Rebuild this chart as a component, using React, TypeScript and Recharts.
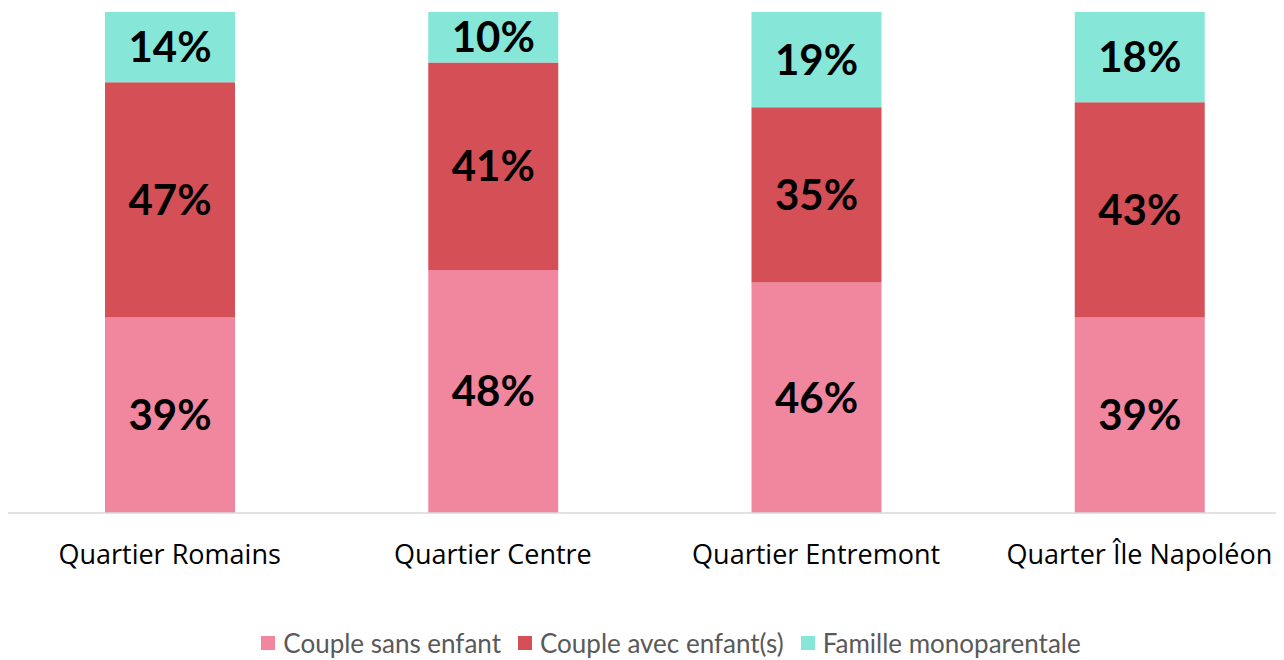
import { Bar, BarChart, LabelList, Legend, XAxis, YAxis } from "recharts";

const categories = ["Quartier Romains", "Quartier Centre", "Quartier Entremont", "Quarter Île Napoléon"];
const sansEnfant = [39, 48, 46, 39];
const avecEnfants = [47, 41, 35, 43];
const monoparentale = [14, 10, 19, 18];

const seriesInfo = [
  { key: "sans", name: "Couple sans enfant", color: "#F0879F" },
  { key: "avec", name: "Couple avec enfant(s)", color: "#D54F57" },
  { key: "mono", name: "Famille monoparentale", color: "#86E7D8" },
];

const data = categories.map((name, i) => ({
  name,
  sans: sansEnfant[i],
  avec: avecEnfants[i],
  mono: monoparentale[i],
}));

const FONT = "Lato, 'Open Sans', sans-serif";
const TICK_FONT = "'Open Sans', Lato, sans-serif";

function Tick(props: any) {
  const { x, y, payload } = props;
  return (
    <text x={x} y={y + 51} textAnchor="middle" fill="#000" fontSize={27} fontFamily={TICK_FONT}>
      {payload.value}
    </text>
  );
}

function LegendBox() {
  return (
    <div
      style={{
        display: "flex",
        justifyContent: "center",
        alignItems: "center",
        height: 34,
        paddingLeft: 50,
        boxSizing: "border-box",
        fontFamily: FONT,
        fontSize: 26,
        lineHeight: "26px",
        color: "#595959",
      }}
    >
      {seriesInfo.map((s, i) => (
        <span key={s.key} style={{ display: "flex", alignItems: "center", marginLeft: i === 0 ? 0 : 17 }}>
          <span style={{ width: 14, height: 14, background: s.color, display: "inline-block", marginRight: 8 }} />
          {s.name}
        </span>
      ))}
    </div>
  );
}

const fmt = (v: any) => `${v}%`;

export default function App() {
  return (
    <div style={{ width: 1276, height: 652, overflow: "hidden" }}>
      <BarChart
        width={1293}
        height={652}
        data={data}
        stackOffset="expand"
        margin={{ top: 4, right: 0, left: 0, bottom: 0 }}
      >
        <XAxis
          dataKey="name"
          height={113}
          tickLine={false}
          tickSize={0}
          tickMargin={0}
          axisLine={{ stroke: "#D9D9D9", strokeWidth: 1.5 }}
          tick={<Tick />}
          interval={0}
        />
        <YAxis hide domain={[0, 1]} />
        <Legend verticalAlign="bottom" content={<LegendBox />} wrapperStyle={{ width: 1276, left: 0 }} />
        {seriesInfo.map((s) => (
          <Bar key={s.key} dataKey={s.key} name={s.name} stackId="a" fill={s.color} barSize={130} isAnimationActive={false}>
            <LabelList
              dataKey={s.key}
              position="center"
              formatter={fmt}
              fill="#000"
              fontSize={42}
              fontWeight={700}
              fontFamily={FONT}
            />
          </Bar>
        ))}
      </BarChart>
    </div>
  );
}
